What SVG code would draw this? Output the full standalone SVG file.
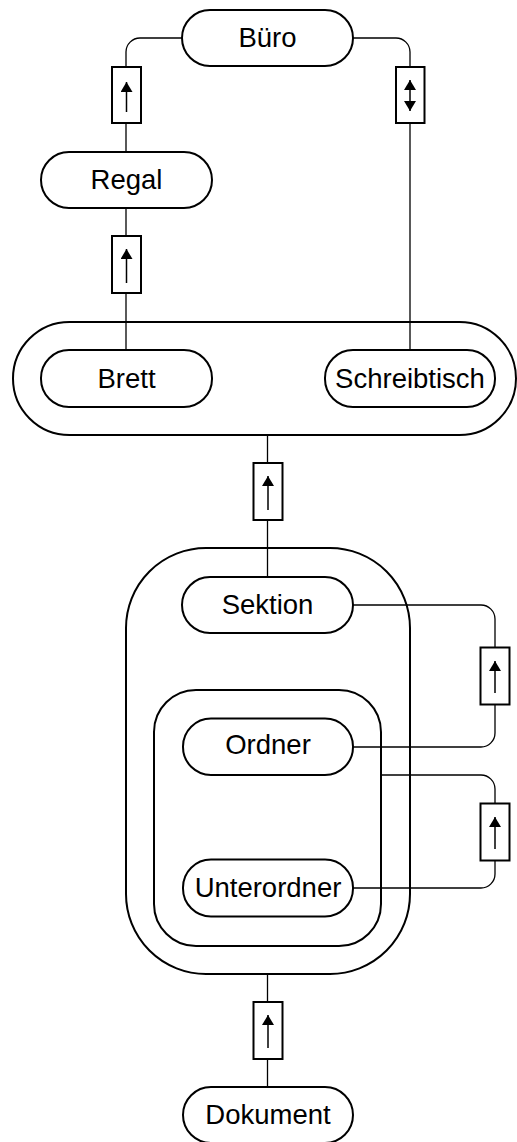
<svg xmlns="http://www.w3.org/2000/svg" width="517" height="1142" viewBox="0 0 517 1142">
<defs>
<style>
.pill{fill:#fff;stroke:#000;stroke-width:2}
.cont{fill:#fff;stroke:#000;stroke-width:2}
.conn{fill:none;stroke:#000;stroke-width:1.3}
.box{fill:#fff;stroke:#000;stroke-width:2}
.shaft{stroke:#000;stroke-width:1.5}
.lbl{font-family:"Liberation Sans",Arial,sans-serif;font-size:27.5px;fill:#000;text-anchor:middle}
</style>
<marker id="ah" viewBox="0 0 10 12" refX="10" refY="6" markerWidth="10" markerHeight="12" markerUnits="userSpaceOnUse" orient="auto-start-reverse">
<path d="M0,0 L10,6 L0,12 Z" fill="#000"/>
</marker>
</defs>
<rect width="517" height="1142" fill="#fff"/>
<g id="container-top"><rect class="cont" x="13" y="322" width="503" height="113" rx="56.5"/></g>
<g id="container-sektion"><rect class="cont" x="126" y="548" width="284" height="426" rx="80"/></g>
<g id="container-ordner"><rect class="cont" x="154" y="690" width="227" height="256" rx="42"/></g>
<g id="connectors">
<path class="conn" d="M182,38 H140 A14,14 0 0 0 126,52 V152"/>
<path class="conn" d="M353,38 H396 A14,14 0 0 1 410,52 V350"/>
<path class="conn" d="M126,208 V350"/>
<path class="conn" d="M267.5,435 V577"/>
<path class="conn" d="M353,605 H481 A14,14 0 0 1 495,619 V733 A14,14 0 0 1 481,747 H353"/>
<path class="conn" d="M381,775 H481 A14,14 0 0 1 495,789 V874 A14,14 0 0 1 481,888 H353"/>
<path class="conn" d="M267.5,974 V1087"/>
<rect class="box" x="112" y="67" width="29" height="56"/>
<line class="shaft" x1="126.5" y1="112" x2="126.5" y2="82" marker-end="url(#ah)"/>
<rect class="box" x="396" y="67" width="28.5" height="56"/>
<line class="shaft" x1="410" y1="111" x2="410" y2="80" marker-start="url(#ah)" marker-end="url(#ah)"/>
<rect class="box" x="112" y="236" width="29" height="57"/>
<line class="shaft" x1="126.5" y1="283" x2="126.5" y2="249" marker-end="url(#ah)"/>
<rect class="box" x="253.5" y="463" width="29" height="57"/>
<line class="shaft" x1="268" y1="510" x2="268" y2="476" marker-end="url(#ah)"/>
<rect class="box" x="480.5" y="647.5" width="29" height="57"/>
<line class="shaft" x1="495" y1="693" x2="495" y2="661" marker-end="url(#ah)"/>
<rect class="box" x="480.5" y="803.5" width="29" height="57"/>
<line class="shaft" x1="495" y1="849" x2="495" y2="817" marker-end="url(#ah)"/>
<rect class="box" x="253.5" y="1002" width="29" height="57"/>
<line class="shaft" x1="268" y1="1048" x2="268" y2="1015" marker-end="url(#ah)"/>
</g>
<g id="buero"><rect class="pill" x="182" y="10" width="171" height="56" rx="28"/><text class="lbl" x="267.5" y="47">Büro</text></g>
<g id="regal"><rect class="pill" x="41" y="152" width="171" height="56" rx="28"/><text class="lbl" x="126.5" y="189">Regal</text></g>
<g id="brett"><rect class="pill" x="41" y="350" width="171" height="57" rx="28"/><text class="lbl" x="126.5" y="387.5">Brett</text></g>
<g id="schreibtisch"><rect class="pill" x="325" y="350" width="170" height="57" rx="28"/><text class="lbl" x="410" y="387.5">Schreibtisch</text></g>
<g id="sektion"><rect class="pill" x="182" y="577" width="171" height="56" rx="28"/><text class="lbl" x="267.5" y="613.5">Sektion</text></g>
<g id="ordner"><rect class="pill" x="183" y="718.5" width="170" height="56.5" rx="28"/><text class="lbl" x="268" y="754">Ordner</text></g>
<g id="unterordner"><rect class="pill" x="183" y="859.5" width="170" height="57" rx="28"/><text class="lbl" x="268" y="896.5">Unterordner</text></g>
<g id="dokument"><rect class="pill" x="183" y="1087" width="170" height="56" rx="28"/><text class="lbl" x="268" y="1123.5">Dokument</text></g>
</svg>
